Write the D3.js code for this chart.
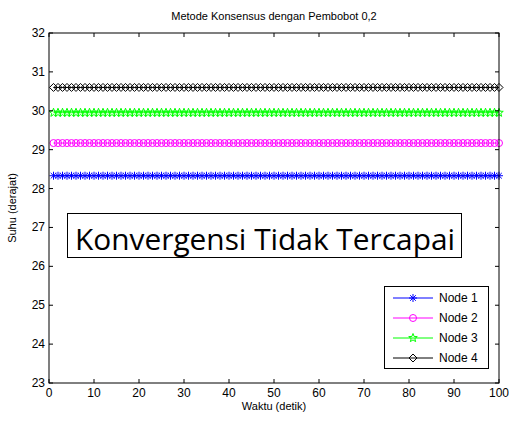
<!DOCTYPE html>
<html><head><meta charset="utf-8">
<script src="https://cdn.jsdelivr.net/npm/d3@7"></script>
<style>body{margin:0;background:#fff}svg{display:block}</style>
</head><body>
<script>
const seriesNames = ["Node 1","Node 2","Node 3","Node 4"];
const seriesLevels = [28.33, 29.17, 29.95, 30.6];
const timeStart = 1, timeEnd = 100;
const xTicks = [0,10,20,30,40,50,60,70,80,90,100];
const yTicks = [23,24,25,26,27,28,29,30,31,32];
const colors = ["#0000ff","#ff00ff","#00ff00","#000000"];
const markers = ["star","circle","pentagram","diamond"];

const W=509,H=426;
const svg=d3.select("body").append("svg").attr("width",W).attr("height",H);
const L=49,R=499,T=33,B=383;
const x=d3.scaleLinear().domain([0,100]).range([L,R]);
const y=d3.scaleLinear().domain([23,32]).range([B,T]);

const font="Arial, 'Liberation Sans', sans-serif";

svg.append("rect").attr("x",L).attr("y",T).attr("width",R-L).attr("height",B-T).attr("fill","#fff").attr("stroke","none");

const ts=d3.range(timeStart,timeEnd+1);
function drawMarker(g,type,cx,cy,c){
  if(type==="circle"){
    g.append("circle").attr("cx",cx).attr("cy",cy).attr("r",3.5).attr("fill","none").attr("stroke",c).attr("stroke-width",1);
  } else if(type==="diamond"){
    const r=4;
    g.append("path").attr("d",`M${cx},${cy-r}L${cx+r},${cy}L${cx},${cy+r}L${cx-r},${cy}Z`).attr("fill","none").attr("stroke",c).attr("stroke-width",1);
  } else if(type==="star"){
    const r=4;
    let d=`M${cx-r},${cy}L${cx+r},${cy}M${cx},${cy-r}L${cx},${cy+r}M${cx-r*0.7},${cy-r*0.7}L${cx+r*0.7},${cy+r*0.7}M${cx-r*0.7},${cy+r*0.7}L${cx+r*0.7},${cy-r*0.7}`;
    g.append("path").attr("d",d).attr("stroke",c).attr("stroke-width",1).attr("fill","none");
  } else if(type==="pentagram"){
    const ro=4.5, ri=1.9; let pts=[];
    for(let i=0;i<10;i++){const a=-Math.PI/2+i*Math.PI/5;const rr=i%2?ri:ro;pts.push([cx+rr*Math.cos(a),cy+rr*Math.sin(a)]);}
    g.append("path").attr("d","M"+pts.map(p=>p.join(",")).join("L")+"Z").attr("fill","none").attr("stroke",c).attr("stroke-width",1);
  }
}
seriesNames.forEach((n,i)=>{
  const g=svg.append("g");
  const data=ts.map(t=>[t,seriesLevels[i]]);
  g.append("path").attr("d",d3.line().x(d=>x(d[0])).y(d=>y(d[1]))(data)).attr("stroke",colors[i]).attr("fill","none").attr("stroke-width",1);
  data.forEach(d=>drawMarker(g,markers[i],x(d[0]),y(d[1]),colors[i]));
});

const tl=4;
const ax=svg.append("g").attr("font-family",font).attr("font-size",12);
xTicks.forEach(v=>{
  ax.append("line").attr("x1",x(v)).attr("x2",x(v)).attr("y1",B).attr("y2",B-tl).attr("stroke","#000");
  ax.append("line").attr("x1",x(v)).attr("x2",x(v)).attr("y1",T).attr("y2",T+tl).attr("stroke","#000");
  ax.append("text").attr("x",x(v)).attr("y",B+14).attr("text-anchor","middle").text(v);
});
yTicks.forEach(v=>{
  ax.append("line").attr("x1",L).attr("x2",L+tl).attr("y1",y(v)).attr("y2",y(v)).attr("stroke","#000");
  ax.append("line").attr("x1",R).attr("x2",R-tl).attr("y1",y(v)).attr("y2",y(v)).attr("stroke","#000");
  ax.append("text").attr("x",L-4).attr("y",y(v)+4).attr("text-anchor","end").text(v);
});
svg.append("rect").attr("x",L).attr("y",T).attr("width",R-L).attr("height",B-T).attr("fill","none").attr("stroke","#000").attr("stroke-width",1);

svg.append("text").attr("x",(L+R)/2).attr("y",20).attr("text-anchor","middle").attr("font-family",font).attr("font-size",11).text("Metode Konsensus dengan Pembobot 0,2");
svg.append("text").attr("x",(L+R)/2).attr("y",410).attr("text-anchor","middle").attr("font-family",font).attr("font-size",11).text("Waktu (detik)");
svg.append("text").attr("transform",`translate(16,${(T+B)/2}) rotate(-90)`).attr("text-anchor","middle").attr("font-family",font).attr("font-size",11).text("Suhu (derajat)");

// annotation
svg.append("rect").attr("x",67.5).attr("y",213.5).attr("width",394).attr("height",44).attr("fill","#fff").attr("stroke","#000").attr("stroke-width",1);
svg.append("text").attr("x",75).attr("y",250).attr("font-family","'Open Sans', Lato, sans-serif").attr("font-weight",500).attr("font-size",30).attr("textLength",380).attr("lengthAdjust","spacingAndGlyphs").text("Konvergensi Tidak Tercapai");

// legend
const lg=svg.append("g");
lg.append("rect").attr("x",384.5).attr("y",286.5).attr("width",104).attr("height",82).attr("fill","#fff").attr("stroke","#000");
seriesNames.forEach((n,i)=>{
  const yy=298+i*20;
  lg.append("line").attr("x1",393).attr("x2",433).attr("y1",yy).attr("y2",yy).attr("stroke",colors[i]);
  drawMarker(lg,markers[i],413,yy,colors[i]);
  lg.append("text").attr("x",439).attr("y",yy+4).attr("font-family",font).attr("font-size",12).text(n);
});
</script>
</body></html>
